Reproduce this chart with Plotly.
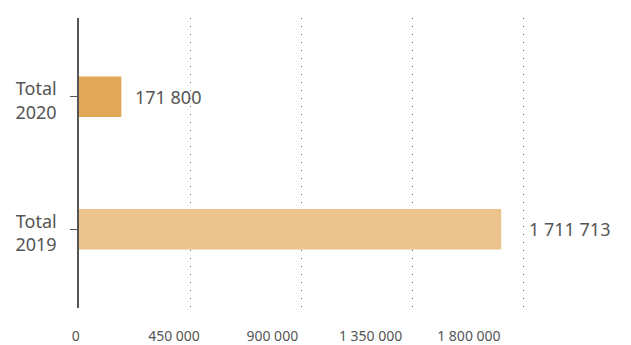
import plotly.graph_objects as go

# ---- data ----
categories = ["Total<br>2019", "Total<br>2020"]
values = [1711713, 171800]
bar_colors = ["#EBC38D", "#E3A857"]
tick_values = [0, 450000, 900000, 1350000, 1800000]
tick_labels = ["0", "450 000", "900 000", "1 350 000", "1 800 000"]
label_texts = [f"{v:,}".replace(",", " ") for v in values]
label_shifts = [26, 12]

TXT = "#555555"
FONT = "Noto Sans"

fig = go.Figure()
fig.add_trace(go.Bar(
    x=values, y=categories, orientation="h",
    marker=dict(color=bar_colors, line=dict(width=0)),
    width=0.306, hoverinfo="skip", xaxis="x", yaxis="y",
))
# invisible trace that carries the tick-label axis
fig.add_trace(go.Scatter(
    x=values, y=categories, mode="markers", marker=dict(opacity=0),
    hoverinfo="skip", xaxis="x2", yaxis="y", showlegend=False,
))

for v, c, t, s in zip(values, categories, label_texts, label_shifts):
    fig.add_annotation(x=v, y=c, xref="x", yref="y", text=t, showarrow=False,
                       xanchor="left", xshift=s,
                       font=dict(family=FONT, size=18, color=TXT))

fig.update_layout(
    width=631, height=345,
    margin=dict(l=79, r=104, t=18, b=37, autoexpand=False),
    paper_bgcolor="white", plot_bgcolor="white",
    showlegend=False,
    xaxis=dict(
        range=[0, 1816216], tickvals=tick_values, showticklabels=False,
        showgrid=True, gridcolor="#666666", griddash="1px,7px", gridwidth=1,
        zeroline=False, showline=False, ticks="", automargin=False,
    ),
    xaxis2=dict(
        overlaying="x", side="bottom",
        range=[-3200, 2047700], tickvals=tick_values, ticktext=tick_labels,
        showgrid=False, zeroline=False, showline=False, ticks="",
        tickfont=dict(family=FONT, size=14, color=TXT),
        ticklabelstandoff=18, ticklabelshift=-4, automargin=False,
    ),
    yaxis=dict(
        type="category", categoryorder="array", categoryarray=categories,
        range=[-0.594, 1.594],
        showline=True, linecolor="#555555", linewidth=1.5,
        ticks="outside", ticklen=7, tickcolor="#555555", tickwidth=1,
        showgrid=False, zeroline=False, automargin=False,
        tickfont=dict(family=FONT, size=18, color=TXT),
        ticklabelstandoff=10, ticklabelshift=4,
    ),
)

fig.write_html("out.html")
